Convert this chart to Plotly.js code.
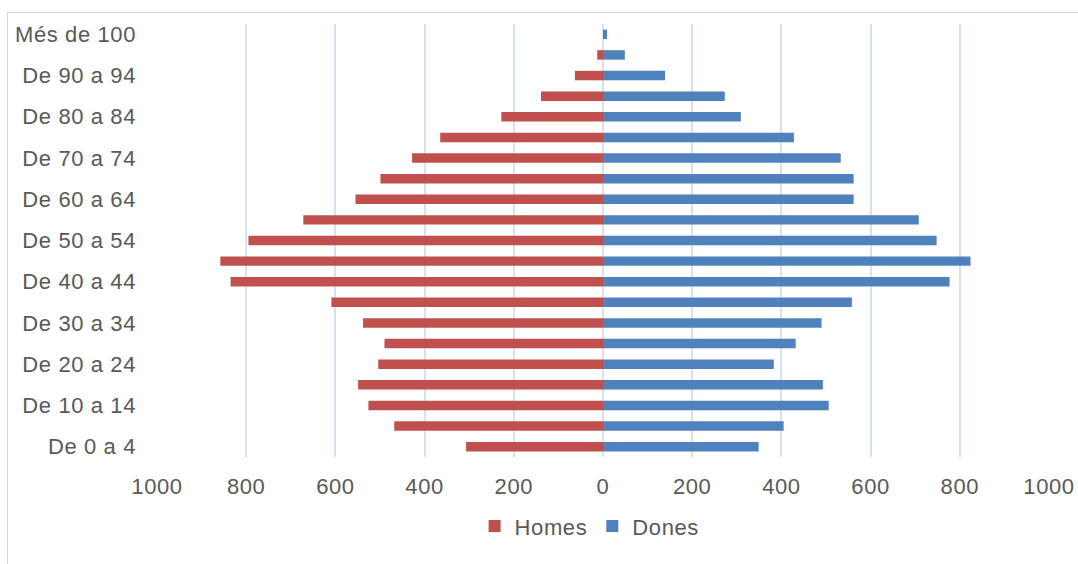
<!DOCTYPE html>
<html>
<head>
<meta charset="utf-8">
<script src="https://cdn.plot.ly/plotly-3.0.1.min.js"></script>
<style>
  html, body { margin: 0; padding: 0; background: #ffffff; }
  #wrap { position: relative; width: 1078px; height: 564px; overflow: hidden; }
  #frame { position: absolute; left: 7px; top: 12px; width: 1080px; height: 560px; border: 1px solid #d9d9d9; box-sizing: border-box; pointer-events: none; z-index: 2; }
  #chart { position: absolute; left: 0; top: 0; width: 1078px; height: 564px; }
  svg text { letter-spacing: 0.6px; }
</style>
</head>
<body>
<div id="wrap">
  <div id="chart"></div>
  <div id="frame"></div>
</div>
<script>
const categories = [
  "De 0 a 4", "De 5 a 9", "De 10 a 14", "De 15 a 19", "De 20 a 24",
  "De 25 a 29", "De 30 a 34", "De 35 a 39", "De 40 a 44", "De 45 a 49",
  "De 50 a 54", "De 55 a 59", "De 60 a 64", "De 65 a 69", "De 70 a 74",
  "De 75 a 79", "De 80 a 84", "De 85 a 89", "De 90 a 94", "De 95 a 99",
  "Més de 100"
];
const homes = [307, 468, 526, 549, 504, 490, 538, 609, 835, 858, 795, 672, 555, 499, 428, 365, 228, 139, 63, 13, 0];
const dones = [349, 405, 506, 493, 383, 432, 490, 558, 777, 824, 748, 708, 562, 562, 533, 428, 309, 273, 139, 49, 9];
const yTickLabels = ["De 0 a 4", "De 10 a 14", "De 20 a 24", "De 30 a 34", "De 40 a 44",
  "De 50 a 54", "De 60 a 64", "De 70 a 74", "De 80 a 84", "De 90 a 94", "Més de 100"];
const xTickVals = [-1000, -800, -600, -400, -200, 0, 200, 400, 600, 800, 1000];
const xTickText = ["1000", "800", "600", "400", "200", "0", "200", "400", "600", "800", "1000"];

const font = { family: "Liberation Sans, Arial, Helvetica, sans-serif", size: 22, color: "#595959" };

const traces = [
  {
    type: "bar", orientation: "h", name: "Homes",
    y: categories, x: homes.map(v => -v),
    marker: { color: "#c0504d" }, hoverinfo: "skip"
  },
  {
    type: "bar", orientation: "h", name: "Dones",
    y: categories, x: dones,
    marker: { color: "#4f81bd" }, hoverinfo: "skip"
  }
];

const layout = {
  width: 1078, height: 564,
  margin: { l: 157, r: 29, t: 24, b: 107, pad: 0 },
  paper_bgcolor: "#ffffff", plot_bgcolor: "#ffffff",
  font: font,
  barmode: "relative",
  bargap: 0.54,
  showlegend: true,
  legend: {
    orientation: "h", x: 0.485, xanchor: "center", y: -0.16, yanchor: "middle",
    font: font, traceorder: "normal", itemwidth: 30
  },
  xaxis: {
    range: [-1000, 1000],
    tickmode: "array", tickvals: xTickVals, ticktext: xTickText,
    showgrid: true, gridcolor: "#d6e2f2", gridwidth: 2,
    zeroline: false, showline: false, ticks: "",
    ticklabelstandoff: 14,
    tickfont: font, fixedrange: true
  },
  yaxis: {
    type: "category", categoryorder: "array", categoryarray: categories,
    tickmode: "array", tickvals: yTickLabels, ticktext: yTickLabels,
    showgrid: false, zeroline: false, showline: false, ticks: "",
    ticklabelstandoff: 20,
    tickfont: font, fixedrange: true
  }
};

Plotly.newPlot("chart", traces, layout, { displayModeBar: false, staticPlot: true });
</script>
</body>
</html>
